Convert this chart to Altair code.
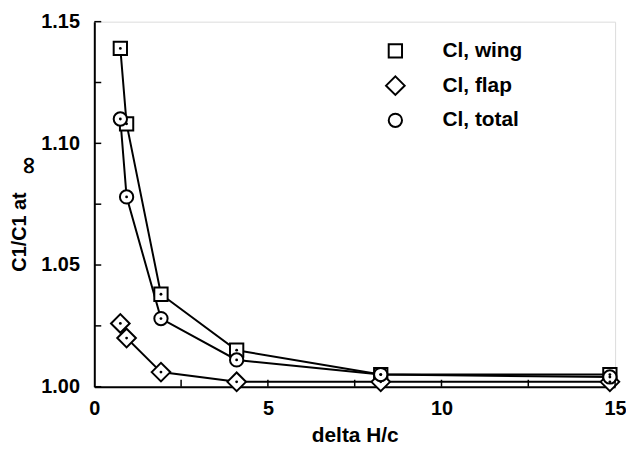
import altair as alt
import pandas as pd

# ---- data ----
x_vals = [0.75, 0.93, 1.92, 4.1, 8.25, 14.85]
wing = [1.139, 1.108, 1.038, 1.015, 1.005, 1.005]
flap = [1.026, 1.020, 1.006, 1.002, 1.002, 1.002]
total = [1.110, 1.078, 1.028, 1.011, 1.005, 1.004]
series = ["Cl, wing", "Cl, flap", "Cl, total"]
shapes = ["square", "M-1.4,0L0,-1.4L1.4,0L0,1.4Z", "circle"]
x_ticks = [0, 5, 10, 15]
x_minor = [2.5, 7.5, 12.5]
y_ticks = [1.00, 1.05, 1.10, 1.15]
y_minor = [1.025, 1.075, 1.125]

rows = []
for name, vals in zip(series, [wing, flap, total]):
    for xv, yv in zip(x_vals, vals):
        rows.append({"series": name, "x": xv, "y": yv})
df = pd.DataFrame(rows)

FONT = "Liberation Sans"
W, H = 525, 368

xs = alt.Scale(domain=[0, 15], nice=False, zero=False)
ys = alt.Scale(domain=[1.0, 1.15], nice=False, zero=False)

x_axis = alt.Axis(values=x_ticks, ticks=False, grid=False, title="delta H/c",
                  labelFont=FONT, labelFontSize=20, labelFontWeight="bold",
                  labelColor="black", labelPadding=12, domainColor="black",
                  domainWidth=2, titleFont=FONT, titleFontSize=21,
                  titleFontWeight="bold", titleColor="black", titlePadding=6,
                  format="d", labelFlush=False)
y_axis = alt.Axis(values=y_ticks, ticks=False, grid=False, title=None,
                  labelFont=FONT, labelFontSize=20, labelFontWeight="bold",
                  labelColor="black", labelPadding=15, domainColor="black",
                  domainWidth=2, format=".2f", labelFlush=False)

base = alt.Chart(df)

lines = base.mark_line(color="black", strokeWidth=2).encode(
    x=alt.X("x:Q", scale=xs, axis=x_axis),
    y=alt.Y("y:Q", scale=ys, axis=y_axis),
    detail="series:N",
)

legend = alt.Legend(orient="none", legendX=293, legendY=19, title=None,
                    padding=0, labelFont=FONT, labelFontSize=21,
                    labelFontWeight="bold", labelColor="black",
                    symbolStrokeColor="black", symbolFillColor="white",
                    symbolStrokeWidth=2, symbolSize=180, symbolOpacity=1,
                    labelOffset=37, rowPadding=10)

points = base.mark_point(filled=False, fill="white", strokeWidth=2,
                         opacity=1, size=180).encode(
    x="x:Q",
    y="y:Q",
    shape=alt.Shape("series:N", scale=alt.Scale(domain=series, range=shapes),
                    legend=legend),
    color=alt.Color("series:N",
                    scale=alt.Scale(domain=series, range=["black"] * 3),
                    legend=legend),
)

dots = base.mark_point(filled=True, color="black", size=8, shape="circle",
                       opacity=1).encode(x="x:Q", y="y:Q")

yt = pd.DataFrame({"y": y_ticks + y_minor})
xt = pd.DataFrame({"x": x_ticks[1:] + x_minor})

y_tick_marks = alt.Chart(yt).mark_rule(color="black", strokeWidth=1.5).encode(
    y="y:Q", x=alt.value(0), x2=alt.value(7))
x_tick_marks = alt.Chart(xt).mark_rule(color="black", strokeWidth=1.5).encode(
    x="x:Q", y=alt.value(H), y2=alt.value(H - 7))

title_df = pd.DataFrame({"t": ["C1/C1 at"]})
inf_df = pd.DataFrame({"t": ["\u221e"]})
ytitle = alt.Chart(title_df).mark_text(
    font=FONT, fontSize=20, fontWeight="bold", angle=270, color="black",
    align="center", baseline="middle").encode(
    text="t:N", x=alt.value(-75), y=alt.value(212))
yinf = alt.Chart(inf_df).mark_text(
    font="DejaVu Sans", fontSize=24, fontWeight="bold", angle=270,
    color="black", align="center", baseline="middle").encode(
    text="t:N", x=alt.value(-66), y=alt.value(145))

chart = alt.layer(lines, points, dots, y_tick_marks, x_tick_marks, ytitle, yinf).properties(
    width=W, height=H,
    autosize=alt.AutoSizeParams(type="none"),
    padding={"left": 87, "top": 12, "right": 11, "bottom": 58},
).configure_view(stroke=None).configure(background="white")

chart.save("out.html", embed_options={"renderer": "svg", "actions": False})
